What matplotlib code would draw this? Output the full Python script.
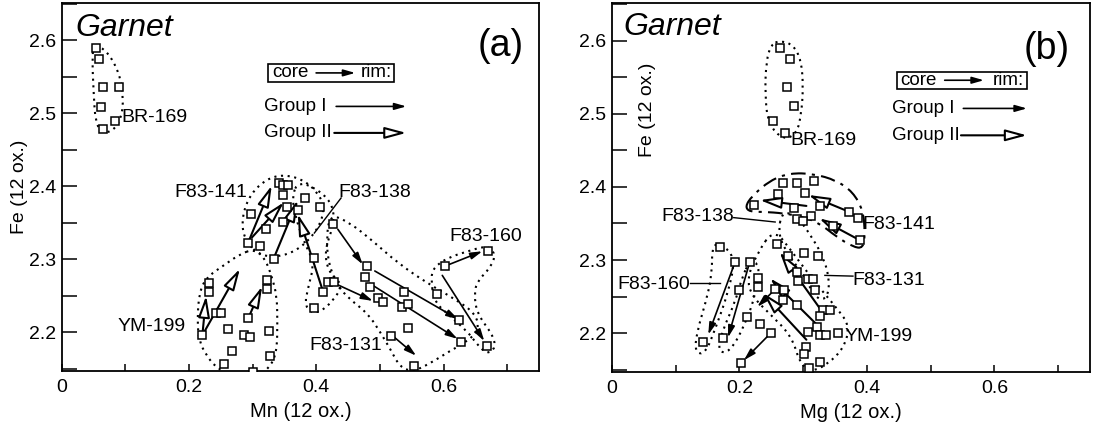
import numpy as np
import matplotlib.pyplot as plt
from matplotlib.path import Path
from matplotlib.patches import PathPatch, Rectangle

plt.rcParams['font.family'] = ['Liberation Sans', 'DejaVu Sans']

# ---------------- panel (a): Mn vs Fe ----------------
br169_a_x = [0.054, 0.059, 0.065, 0.090, 0.062, 0.083, 0.065]
br169_a_y = [2.590, 2.574, 2.536, 2.536, 2.509, 2.489, 2.478]
f141_a_x = [0.341, 0.347, 0.356, 0.348, 0.354, 0.298, 0.372, 0.321, 0.347, 0.293, 0.312, 0.382]
f141_a_y = [2.404, 2.402, 2.402, 2.388, 2.372, 2.362, 2.368, 2.342, 2.351, 2.323, 2.318, 2.384]
f138_a_x = [0.406, 0.397, 0.333, 0.411, 0.419, 0.428, 0.397]
f138_a_y = [2.371, 2.302, 2.300, 2.255, 2.269, 2.269, 2.234]
f131_a_x = [0.427, 0.480, 0.476, 0.485, 0.497, 0.505, 0.538, 0.535, 0.544, 0.544, 0.518, 0.554, 0.625, 0.628]
f131_a_y = [2.349, 2.291, 2.276, 2.262, 2.247, 2.241, 2.255, 2.235, 2.239, 2.206, 2.195, 2.154, 2.217, 2.187]
f160_a_x = [0.602, 0.670, 0.589, 0.668]
f160_a_y = [2.291, 2.312, 2.253, 2.181]
ym199_a_x = [0.231, 0.232, 0.221, 0.242, 0.251, 0.261, 0.268, 0.255, 0.293, 0.286, 0.296, 0.325, 0.328, 0.300, 0.322, 0.322]
ym199_a_y = [2.267, 2.255, 2.196, 2.227, 2.227, 2.205, 2.175, 2.157, 2.219, 2.197, 2.194, 2.202, 2.168, 2.146, 2.272, 2.259]

# core -> rim arrows (tail x, tail y, tip x, tip y)
g1_a = [(0.434, 2.341, 0.473, 2.293), (0.492, 2.284, 0.623, 2.218), (0.484, 2.267, 0.622, 2.191),
        (0.434, 2.265, 0.489, 2.243), (0.523, 2.193, 0.557, 2.168), (0.609, 2.293, 0.661, 2.311),
        (0.598, 2.278, 0.664, 2.188)]
g2_a = [(0.293, 2.323, 0.330, 2.401), (0.299, 2.330, 0.349, 2.378), (0.333, 2.301, 0.371, 2.381),
        (0.411, 2.255, 0.371, 2.362), (0.221, 2.196, 0.280, 2.287), (0.221, 2.196, 0.227, 2.250),
        (0.293, 2.219, 0.315, 2.263)]

# sample outlines (a)
out_br169_a = [(0.050, 2.595), (0.072, 2.585), (0.091, 2.554), (0.097, 2.521), (0.094, 2.494), (0.081, 2.476),
               (0.064, 2.473), (0.053, 2.487), (0.050, 2.531), (0.048, 2.572)]
out_f141_a = [(0.286, 2.328), (0.283, 2.359), (0.297, 2.390), (0.322, 2.410), (0.348, 2.416), (0.377, 2.410),
              (0.400, 2.394), (0.413, 2.373), (0.406, 2.346), (0.380, 2.318), (0.348, 2.304), (0.312, 2.304)]
out_f138_a = [(0.372, 2.407), (0.406, 2.394), (0.427, 2.373), (0.427, 2.346), (0.413, 2.312), (0.419, 2.282),
              (0.442, 2.266), (0.427, 2.243), (0.400, 2.224), (0.381, 2.235), (0.388, 2.264), (0.397, 2.295),
              (0.380, 2.325), (0.367, 2.359), (0.362, 2.387)]
out_f131_a = [(0.422, 2.362), (0.453, 2.350), (0.489, 2.325), (0.528, 2.295), (0.575, 2.267), (0.619, 2.245),
              (0.650, 2.226), (0.656, 2.204), (0.638, 2.188), (0.609, 2.174), (0.578, 2.157), (0.551, 2.146),
              (0.531, 2.153), (0.517, 2.176), (0.500, 2.201), (0.481, 2.226), (0.453, 2.245), (0.434, 2.263),
              (0.419, 2.294), (0.416, 2.331)]
out_f160_a = [(0.580, 2.275), (0.585, 2.289), (0.606, 2.302), (0.638, 2.311), (0.669, 2.319), (0.682, 2.307),
              (0.674, 2.289), (0.653, 2.270), (0.648, 2.252), (0.653, 2.225), (0.677, 2.197), (0.682, 2.179),
              (0.669, 2.170), (0.653, 2.183), (0.638, 2.201), (0.606, 2.225), (0.585, 2.243)]
out_ym199_a = [(0.280, 2.307), (0.255, 2.292), (0.227, 2.275), (0.216, 2.254), (0.213, 2.216), (0.216, 2.188),
               (0.227, 2.169), (0.242, 2.152), (0.270, 2.139), (0.302, 2.136), (0.325, 2.150), (0.338, 2.171),
               (0.339, 2.216), (0.338, 2.250), (0.330, 2.277), (0.319, 2.302), (0.302, 2.314)]

# ---------------- panel (b): Mg vs Fe ----------------
br169_b_x = [0.264, 0.280, 0.274, 0.285, 0.253, 0.271]
br169_b_y = [2.590, 2.575, 2.537, 2.510, 2.490, 2.474]
f141_b_x = [0.268, 0.290, 0.317, 0.303, 0.326, 0.372, 0.386, 0.313, 0.347, 0.389]
f141_b_y = [2.406, 2.406, 2.408, 2.392, 2.374, 2.366, 2.357, 2.360, 2.347, 2.327]
f138_b_x = [0.261, 0.222, 0.285, 0.290, 0.299]
f138_b_y = [2.390, 2.375, 2.371, 2.356, 2.354]
f131_b_x = [0.259, 0.276, 0.301, 0.323, 0.292, 0.290, 0.308, 0.316, 0.318, 0.331, 0.342, 0.326]
f131_b_y = [2.322, 2.306, 2.310, 2.305, 2.271, 2.283, 2.274, 2.274, 2.259, 2.232, 2.232, 2.223]
ym199_b_x = [0.229, 0.229, 0.256, 0.270, 0.269, 0.290, 0.232, 0.321, 0.308, 0.326, 0.335, 0.354,
             0.304, 0.301, 0.326, 0.309]
ym199_b_y = [2.275, 2.263, 2.260, 2.259, 2.246, 2.238, 2.212, 2.209, 2.201, 2.198, 2.197, 2.200,
             2.181, 2.172, 2.160, 2.153]
f160_b_x = [0.170, 0.193, 0.216, 0.200, 0.212, 0.143, 0.174, 0.249, 0.202]
f160_b_y = [2.318, 2.297, 2.297, 2.259, 2.222, 2.188, 2.194, 2.200, 2.159]

g1_b = [(0.193, 2.297, 0.151, 2.198), (0.216, 2.297, 0.182, 2.194), (0.249, 2.200, 0.207, 2.163),
        (0.256, 2.260, 0.228, 2.236)]
g2_b = [(0.372, 2.366, 0.308, 2.389), (0.389, 2.327, 0.325, 2.357), (0.305, 2.374, 0.232, 2.382),
        (0.326, 2.234, 0.263, 2.311), (0.305, 2.191, 0.237, 2.255), (0.321, 2.212, 0.248, 2.275)]

out_br169_b = [(0.263, 2.600), (0.284, 2.595), (0.297, 2.573), (0.300, 2.536), (0.297, 2.500), (0.290, 2.473),
               (0.269, 2.464), (0.245, 2.486), (0.240, 2.527), (0.242, 2.573), (0.250, 2.595)]
out_f141_b = [(0.209, 2.373), (0.219, 2.387), (0.248, 2.409), (0.279, 2.419), (0.316, 2.418), (0.352, 2.409),
              (0.378, 2.393), (0.394, 2.368), (0.397, 2.336), (0.394, 2.316), (0.378, 2.318), (0.352, 2.332),
              (0.326, 2.350), (0.300, 2.359), (0.269, 2.364), (0.237, 2.366), (0.216, 2.366)]
out_f131_b = [(0.267, 2.368), (0.292, 2.358), (0.314, 2.331), (0.334, 2.300), (0.342, 2.266), (0.335, 2.245),
              (0.318, 2.249), (0.303, 2.277), (0.279, 2.304), (0.260, 2.334)]
out_f160_b1 = [(0.157, 2.324), (0.179, 2.318), (0.193, 2.299), (0.182, 2.255), (0.163, 2.208), (0.146, 2.171),
               (0.130, 2.174), (0.133, 2.201), (0.147, 2.242), (0.157, 2.280)]
out_f160_b2 = [(0.216, 2.299), (0.232, 2.294), (0.226, 2.255), (0.209, 2.212), (0.185, 2.174), (0.166, 2.174),
               (0.172, 2.201), (0.193, 2.242), (0.204, 2.276)]
out_ym199_b = [(0.254, 2.343), (0.282, 2.312), (0.317, 2.271), (0.353, 2.234), (0.373, 2.210), (0.364, 2.180),
               (0.339, 2.158), (0.314, 2.147), (0.295, 2.158), (0.282, 2.196), (0.248, 2.226), (0.219, 2.251),
               (0.212, 2.275), (0.227, 2.308)]


def outline(ax, verts, ls=(0, (1, 2.2))):
    # smooth closed loop through the midpoints, vertices as control points
    pts = np.array(verts)
    mids = (pts + np.roll(pts, -1, axis=0)) / 2
    v = [mids[-1]]
    c = [Path.MOVETO]
    for p, m in zip(pts, mids):
        v += [p, m]
        c += [Path.CURVE3, Path.CURVE3]
    ax.add_patch(PathPatch(Path(v, c), fill=False, ec='k', lw=1.5, ls=ls))


def arrow(ax, x0, y0, x1, y1, group, coords='data'):
    if group == 1:
        props = dict(arrowstyle='-|>,head_length=0.7,head_width=0.2', fc='k', ec='k', lw=1.2,
                     shrinkA=0, shrinkB=0)
    else:
        props = dict(arrowstyle='-|>,head_length=1.3,head_width=0.35', fc='white', ec='k', lw=1.5,
                     shrinkA=0, shrinkB=0)
    ax.annotate('', xy=(x1, y1), xytext=(x0, y0), xycoords=coords, textcoords=coords, arrowprops=props)


def legend(ax, box, ys, tx, arr_x):
    ax.add_patch(Rectangle((box[0], box[1]), box[2], box[3], transform=ax.transAxes, fill=False,
                           ec='k', lw=1.2))
    yb = box[1] + box[3] / 2
    ax.text(box[0] + 0.008, yb, 'core', transform=ax.transAxes, fontsize=13.5, va='center')
    ax.text(box[0] + box[2] - 0.006, yb, 'rim:', transform=ax.transAxes, fontsize=13.5, va='center', ha='right')
    arrow(ax, box[0] + 0.1, yb, box[0] + 0.182, yb, 1, coords='axes fraction')
    ax.text(tx, ys[0], 'Group I', transform=ax.transAxes, fontsize=13.5, va='center')
    ax.text(tx, ys[1], 'Group II', transform=ax.transAxes, fontsize=13.5, va='center')
    arrow(ax, arr_x[0], ys[0], arr_x[2], ys[0], 1, coords='axes fraction')
    arrow(ax, arr_x[1], ys[1], arr_x[2], ys[1], 2, coords='axes fraction')


fig = plt.figure(figsize=(10.98, 4.26), dpi=100)
axa = fig.add_axes([0.0562, 0.129, 0.4347, 0.864])
axb = fig.add_axes([0.5574, 0.127, 0.4353, 0.865])

sq = dict(ls='none', marker='s', ms=5.2, mfc='white', mec='k', mew=1.1, zorder=5)

# panel (a)
for xs, ys in [(br169_a_x, br169_a_y), (f141_a_x, f141_a_y), (f138_a_x, f138_a_y),
               (f131_a_x, f131_a_y), (f160_a_x, f160_a_y), (ym199_a_x, ym199_a_y)]:
    axa.plot(xs, ys, **sq)
for o in [out_br169_a, out_f141_a, out_f138_a, out_f131_a, out_f160_a, out_ym199_a]:
    outline(axa, o)
for a in g1_a:
    arrow(axa, *a, 1)
for a in g2_a:
    arrow(axa, *a, 2)
lab = dict(fontsize=14, ha='center', va='center')
axa.text(0.146, 2.494, 'BR-169', **lab)
axa.text(0.235, 2.391, 'F83-141', **lab)
axa.text(0.492, 2.392, 'F83-138', **lab)
axa.text(0.667, 2.331, 'F83-160', **lab)
axa.text(0.141, 2.208, 'YM-199', **lab)
axa.text(0.447, 2.182, 'F83-131', **lab)
axa.plot([0.439, 0.397], [2.384, 2.336], color='k', lw=1)
axa.text(0.028, 0.91, 'Garnet', transform=axa.transAxes, fontsize=23, style='italic', va='baseline')
axa.text(0.967, 0.883, '(a)', transform=axa.transAxes, fontsize=27, ha='right', va='center')
legend(axa, (0.433, 0.786, 0.264, 0.048), (0.719, 0.647), 0.424, (0.575, 0.571, 0.722))
axa.set_xlabel('Mn (12 ox.)', fontsize=14.5)
axa.set_ylabel('Fe (12 ox.)', fontsize=14, labelpad=1)

# panel (b)
for xs, ys in [(br169_b_x, br169_b_y), (f141_b_x, f141_b_y), (f138_b_x, f138_b_y),
               (f131_b_x, f131_b_y), (ym199_b_x, ym199_b_y), (f160_b_x, f160_b_y)]:
    axb.plot(xs, ys, **sq)
for o in [out_br169_b, out_f131_b, out_f160_b1, out_f160_b2, out_ym199_b]:
    outline(axb, o)
outline(axb, out_f141_b, ls=(0, (7, 3, 1.5, 3)))
for a in g1_b:
    arrow(axb, *a, 1)
for a in g2_b:
    arrow(axb, *a, 2)
axb.text(0.332, 2.464, 'BR-169', **lab)
axb.text(0.134, 2.359, 'F83-138', **lab)
axb.text(0.450, 2.349, 'F83-141', **lab)
axb.text(0.066, 2.267, 'F83-160', **lab)
axb.text(0.434, 2.272, 'F83-131', **lab)
axb.text(0.419, 2.196, 'YM-199', **lab)
axb.plot([0.191, 0.256], [2.358, 2.352], color='k', lw=1)
axb.plot([0.122, 0.169], [2.268, 2.268], color='k', lw=1)
axb.plot([0.334, 0.378], [2.279, 2.278], color='k', lw=1)
axb.text(0.023, 0.913, 'Garnet', transform=axb.transAxes, fontsize=23, style='italic', va='baseline')
axb.text(0.958, 0.877, '(b)', transform=axb.transAxes, fontsize=27, ha='right', va='center')
legend(axb, (0.596, 0.769, 0.272, 0.045), (0.715, 0.642), 0.585, (0.735, 0.730, 0.868))
axb.set_xlabel('Mg (12 ox.)', fontsize=14.5)
axb.text(0.075, 0.71, 'Fe (12 ox.)', transform=axb.transAxes, fontsize=14, rotation=90,
         ha='center', va='center')

for ax in (axa, axb):
    ax.set_xlim(0, 0.75)
    ax.set_ylim(2.147, 2.651)
    ax.set_xticks([0, 0.2, 0.4, 0.6])
    ax.set_xticklabels(['0', '0.2', '0.4', '0.6'])
    ax.set_xticks(np.arange(0.1, 0.75, 0.2), minor=True)
    ax.set_yticks([2.2, 2.3, 2.4, 2.5, 2.6])
    ax.set_yticks([2.15, 2.25, 2.35, 2.45, 2.55, 2.65], minor=True)
    ax.tick_params(axis='x', which='both', direction='in', length=5, width=1.1, labelsize=14, pad=6)
    ax.tick_params(axis='y', which='both', direction='in', length=11, width=1.1, labelsize=14, pad=4)
    for s in ax.spines.values():
        s.set_linewidth(1.3)

fig.savefig('out.png', dpi=100)
